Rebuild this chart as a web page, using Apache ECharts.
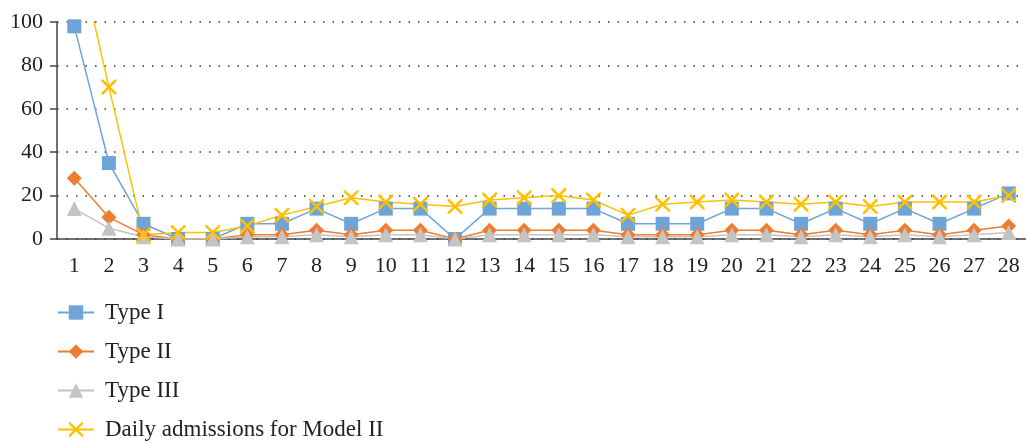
<!DOCTYPE html>
<html>
<head>
<meta charset="utf-8">
<title>Daily admissions</title>
<script src="https://cdn.jsdelivr.net/npm/echarts@6/dist/echarts.min.js"></script>
<style>body{margin:0;background:#fff;}</style>
</head>
<body>
<div id="main" style="width:1026px;height:444px;"></div>
<script type="text/javascript">
var days = [];
for (var d = 1; d <= 28; d++) { days.push(String(d)); }

var typeI   = [98, 35, 7, 0, 0, 7, 7, 14, 7, 14, 14, 0, 14, 14, 14, 14, 7, 7, 7, 14, 14, 7, 14, 7, 14, 7, 14, 21];
var typeII  = [28, 10, 2, 0, 0, 2, 2, 4, 2, 4, 4, 0, 4, 4, 4, 4, 2, 2, 2, 4, 4, 2, 4, 2, 4, 2, 4, 6];
var typeIII = [14, 5, 1, 0, 0, 1, 1, 2, 1, 2, 2, 0, 2, 2, 2, 2, 1, 1, 1, 2, 2, 1, 2, 1, 2, 1, 2, 3];
var modelII = [140, 70, 2, 3, 3, 6, 11, 15, 19, 17, 16, 15, 18, 19, 20, 18, 11, 16, 17, 18, 17, 16, 17, 15, 17, 17, 17, 20];

var names = ['Type I', 'Type II', 'Type III', 'Daily admissions for Model II'];
var colors = ['#6fa4d8', '#ed7d31', '#c4c4c4', '#ffc000'];
var crossPath = 'path://M0,0 L1.2,0 L10,8.8 L10,10 L8.8,10 L0,1.2Z M8.8,0 L10,0 L10,1.2 L1.2,10 L0,10 L0,8.8Z';
var font = '"Liberation Serif", "DejaVu Serif", serif';

var myChart = echarts.init(document.getElementById('main'));

function mkSeries(i, data, symbol, size) {
    return {
        name: names[i],
        type: 'line',
        data: data,
        symbol: symbol,
        symbolSize: size,
        showAllSymbol: true,
        clip: true,
        lineStyle: { color: colors[i], width: 1.5 },
        itemStyle: { color: colors[i] },
        emphasis: { disabled: true },
        animation: false
    };
}

var option = {
    backgroundColor: '#fff',
    textStyle: { fontFamily: font },
    grid: { left: 57, right: -6, top: 22, bottom: 205, containLabel: false },
    legend: {
        orient: 'vertical',
        left: 57,
        top: 301,
        padding: 0,
        height: 150,
        itemWidth: 36,
        itemHeight: 18,
        itemGap: 16,
        textStyle: { fontFamily: font, fontSize: 23, color: '#222', padding: [0, 0, 0, 6] },
        data: names
    },
    xAxis: {
        type: 'category',
        data: days,
        boundaryGap: true,
        axisLine: { lineStyle: { color: '#444', width: 1.5 } },
        axisTick: { show: false },
        axisLabel: { fontFamily: font, fontSize: 22, color: '#222', margin: 16, interval: 0 },
        splitLine: { show: false }
    },
    yAxis: {
        type: 'value',
        min: 0,
        max: 100,
        interval: 20,
        axisLine: { show: true, lineStyle: { color: '#444', width: 1.5 } },
        axisTick: { show: true, length: 7, lineStyle: { color: '#444', width: 1.5 } },
        axisLabel: { fontFamily: font, fontSize: 22, color: '#222', margin: 14 },
        splitLine: { show: true, lineStyle: { color: '#333', type: [1.5, 8], width: 1.5 } }
    },
    series: [
        mkSeries(0, typeI, 'rect', 14),
        mkSeries(1, typeII, 'diamond', 15),
        mkSeries(2, typeIII, 'triangle', 15),
        mkSeries(3, modelII, crossPath, 15)
    ]
};
myChart.setOption(option);
</script>
</body>
</html>
